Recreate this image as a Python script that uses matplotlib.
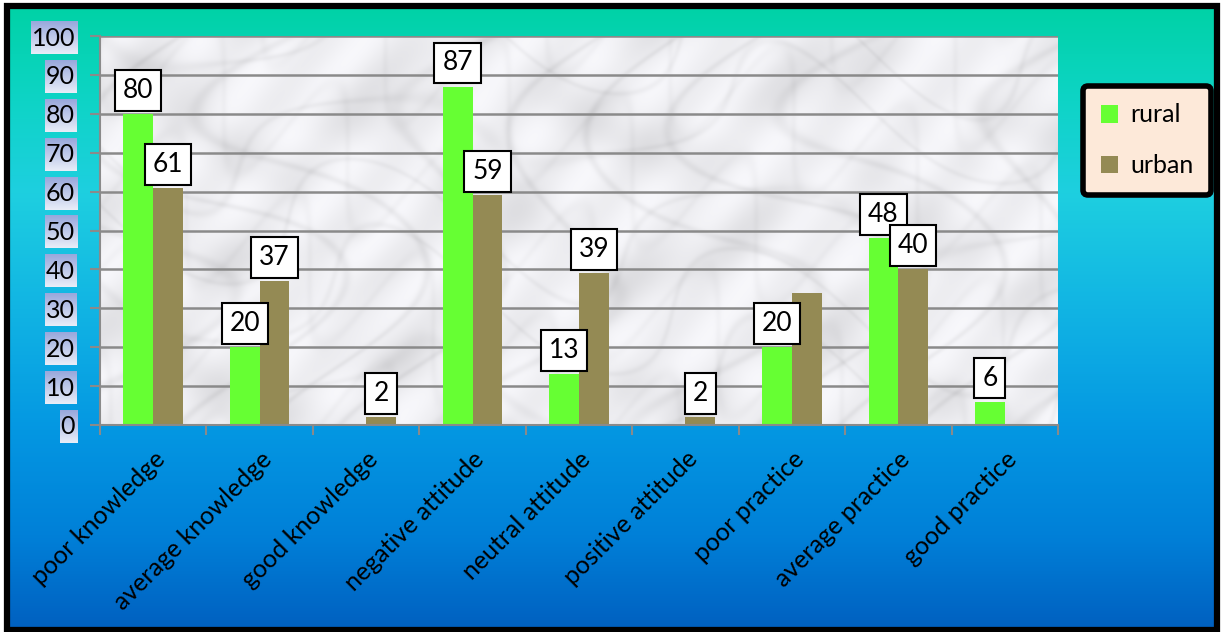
import numpy as np
import matplotlib
matplotlib.use("Agg")
import matplotlib.pyplot as plt
from matplotlib.colors import LinearSegmentedColormap
from matplotlib.patches import Rectangle

############
# chart values
categories = ["poor knowledge", "average knowledge", "good knowledge",
              "negative attitude", "neutral attitude", "positive attitude",
              "poor practice", "average practice", "good practice"]
rural = [80, 20, 0, 87, 13, 0, 20, 48, 6]
urban = [61, 37, 2, 59, 39, 2, 34, 40, 0]
rural_labels = ["80", "20", "", "87", "13", "", "20", "48", "6"]
urban_labels = ["61", "37", "2", "59", "39", "2", "", "40", ""]
yticks = [0, 10, 20, 30, 40, 50, 60, 70, 80, 90, 100]
############

plt.rcParams['font.family'] = ['Lato', 'DejaVu Sans']

W, H = 1227, 632
fig = plt.figure(figsize=(W / 100, H / 100), dpi=100)

# background axes in pixel coordinates
bg = fig.add_axes([0, 0, 1, 1], zorder=0)
bg.set_xlim(0, W)
bg.set_ylim(H, 0)
bg.axis("off")
grad = LinearSegmentedColormap.from_list("bg", [
    (0.0, "#00d2a6"), (0.15, "#0ed4c6"), (0.3, "#1ecfe0"),
    (0.5, "#10b2e4"), (0.68, "#0497e2"), (0.85, "#0080d8"), (1.0, "#0060c0")])
bg.imshow(np.linspace(0, 1, 256).reshape(-1, 1), cmap=grad, aspect="auto",
          extent=(7, 1217, 630, 6), zorder=0)
bg.add_patch(Rectangle((7, 6), 1210, 624, fill=False, edgecolor="black",
                       linewidth=4.5, zorder=3))

# main chart
ax = fig.add_axes([100 / W, (H - 425) / H, 958 / W, (425 - 36) / H], zorder=1)
ax.patch.set_alpha(0)
x = np.arange(len(categories))
bw = 0.28

# marble-like plot area backdrop
yy, xx = np.mgrid[0:390, 0:958]
t1 = np.sin(xx / 37 + 2.5 * np.sin(yy / 53) + 1.3 * np.sin((xx + yy) / 91))
t2 = np.sin(yy / 29 - 2.0 * np.sin(xx / 61) + np.sin((xx - yy) / 47))
t3 = np.sin(xx / 83 - yy / 41 + 1.7 * np.sin(xx / 23 + yy / 67))
blob = (np.sin(xx / 71 + np.sin(yy / 37)) * np.sin(yy / 43 + np.cos(xx / 59))) ** 2
veins = (0.4 * np.exp(-(t1 / 0.18) ** 2) + 0.3 * np.exp(-(t2 / 0.15) ** 2)
         + 0.2 * np.exp(-(t3 / 0.25) ** 2))
gray = np.clip(0.95 - 0.11 * veins - 0.06 * blob + 0.02 * np.sin(xx / 13 + yy / 17), 0, 1)
img = np.dstack([gray, gray, np.clip(gray * 1.015, 0, 1)])
ax.imshow(img, extent=(-0.5, len(categories) - 0.5, 0, 100), aspect="auto", zorder=0)

b1 = ax.bar(x - bw / 2, rural, bw, color="#66ff33", label="rural", zorder=2)
b2 = ax.bar(x + bw / 2, urban, bw, color="#948a54", label="urban", zorder=2)

box = dict(boxstyle="square,pad=0.3", facecolor="white", edgecolor="black", linewidth=1.5)
ax.bar_label(b1, labels=rural_labels, padding=8, fontsize=19, bbox=box, zorder=4)
ax.bar_label(b2, labels=urban_labels, padding=8, fontsize=19, bbox=box, zorder=4)

ax.set_xlim(-0.5, len(categories) - 0.5)
ax.set_ylim(0, 100)
ax.set_yticks(yticks)
ax.set_yticklabels([str(v) for v in yticks], fontsize=18)
ax.yaxis.grid(True, color="#8a8a8a", linewidth=1.8, zorder=1)
ax.set_axisbelow(True)

ax.set_xticks(np.arange(-0.5, len(categories), 1.0))
ax.set_xticklabels([])
ax.set_xticks(x, minor=True)
ax.set_xticklabels(categories, minor=True, rotation=45, ha="right",
                   rotation_mode="anchor", fontsize=18)
ax.tick_params(axis="x", which="minor", length=0, pad=16)
ax.tick_params(axis="x", which="major", length=7, width=1.5, color="#8a8a8a")
ax.tick_params(axis="y", length=7, width=1.5, color="#8a8a8a", pad=11)

for s in ["top", "right"]:
    ax.spines[s].set_visible(False)
for s in ["left", "bottom"]:
    ax.spines[s].set_color("#8a8a8a")
    ax.spines[s].set_linewidth(1.5)

# shaded boxes behind the y tick labels, sized from the drawn labels
fig.canvas.draw()
renderer = fig.canvas.get_renderer()
lab_grad = LinearSegmentedColormap.from_list("lab", ["#98a8dc", "#e8edf8"])
for lab in ax.get_yticklabels():
    bb = lab.get_window_extent(renderer)
    py = H - (bb.y0 + bb.y1) / 2
    bg.imshow(np.linspace(0, 1, 64).reshape(-1, 1), cmap=lab_grad, aspect="auto",
              extent=(bb.x0 - 1, bb.x1 + 2, py + 16, py - 17), zorder=1)
bg.set_xlim(0, W)
bg.set_ylim(H, 0)

leg = fig.legend(loc="upper left", bbox_to_anchor=(1083 / W, 1 - 86 / H),
                 bbox_transform=fig.transFigure, borderaxespad=0, fontsize=18,
                 handlelength=0.7, handleheight=0.7, labelspacing=1.1,
                 borderpad=0.7, handletextpad=0.5, fancybox=True)
fr = leg.get_frame()
fr.set_facecolor("#fde9d9")
fr.set_edgecolor("black")
fr.set_linewidth(4)
fr.set_alpha(1)

fig.savefig("out.png", dpi=100)
